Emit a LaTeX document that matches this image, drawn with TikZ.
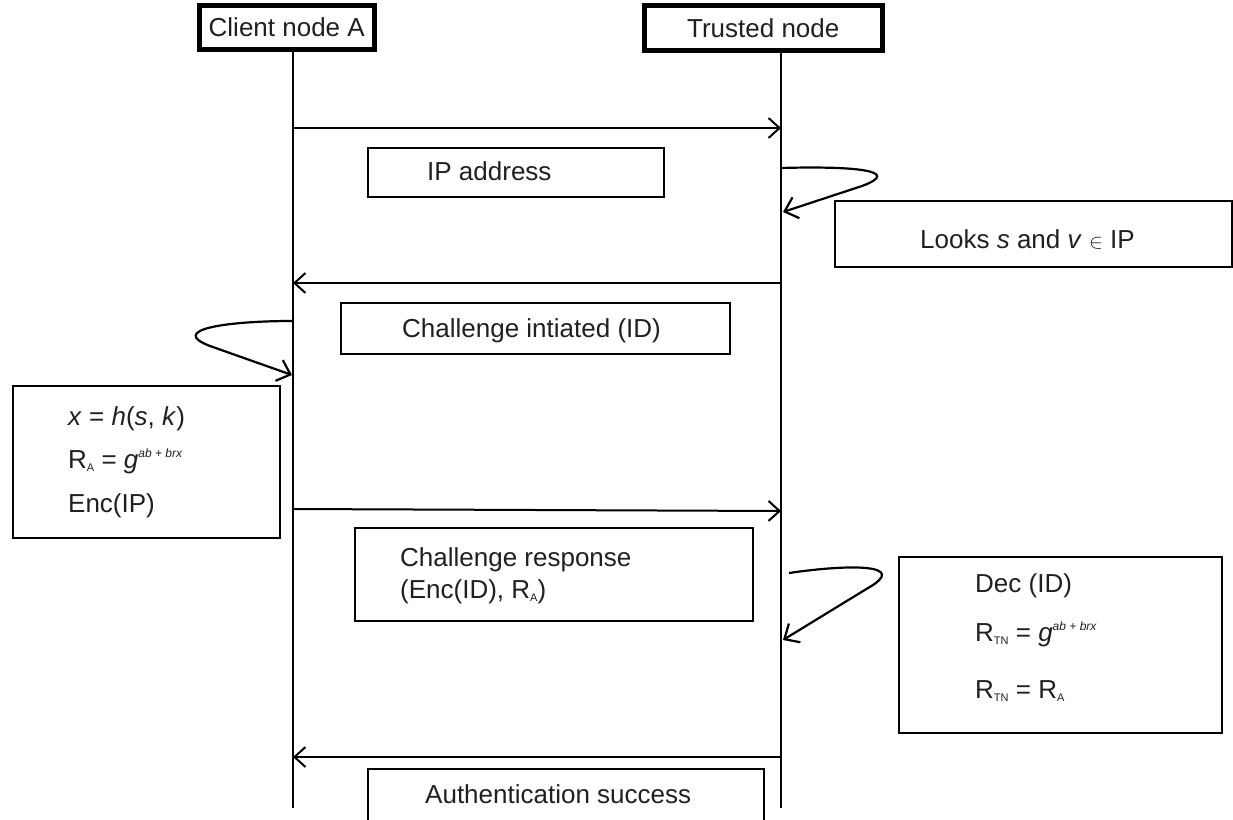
\documentclass[tikz,border=0pt]{standalone}
\usepackage{fontspec}
\setmainfont{Liberation Sans}
\usetikzlibrary{arrows.meta}
\newcommand{\lowsub}[1]{\raisebox{-3pt}{\fontsize{11}{11}\selectfont #1}}
\newcommand{\highsup}[1]{\raisebox{11pt}{\fontsize{12}{12}\selectfont\itshape #1}}
\definecolor{ink}{HTML}{231F20}
\begin{document}
\begin{tikzpicture}[x=1pt,y=-1pt,
  every node/.style={font=\fontsize{26}{31}\selectfont, text=ink},
  frame/.style={draw=black, line width=2.2pt, inner sep=0pt, anchor=north west},
  hdr/.style={draw=black, line width=4.5pt, inner sep=0pt, anchor=north west},
  life/.style={draw=black, line width=2.5pt},
  msg/.style={draw=black, line width=2pt, -{Straight Barb[length=11pt,width=20pt]}},
  selfloop/.style={draw=black, line width=2.2pt, -{Straight Barb[length=12pt,width=22pt]}},
  lbl/.style={anchor=base west, inner sep=0pt}]
\useasboundingbox (0,0) rectangle (1233,819);
\fill[white] (0,0) rectangle (1233,819);

% header boxes
\node[hdr, minimum width=175pt, minimum height=44pt] (cA) at (197,3) {Client node A};
\node[hdr, minimum width=238pt, minimum height=45pt] (tN) at (642,3) {Trusted node};

% lifelines
\coordinate (cEnd) at (293,808);
\coordinate (tEnd) at (781,808);
\draw[life] (cA.south -| cEnd) -- (cEnd);
\draw[life] (tN.south -| tEnd) -- (tEnd);

% message end points on lifelines
\coordinate (c1) at (293,128); \coordinate (t1) at (781,128);
\coordinate (c2) at (293,283); \coordinate (t2) at (781,283);
\coordinate (c3) at (293,509); \coordinate (t3) at (781,511);
\coordinate (c4) at (293,757); \coordinate (t4) at (781,757);

\draw[msg] (c1) -- (t1);
\draw[msg] (t2) -- (c2);
\draw[msg] (c3) -- (t3);
\draw[msg] (t4) -- (c4);

% self loops
\coordinate (la1) at (781,168); \coordinate (lb1) at (783,212);
\draw[selfloop] (la1) .. controls (850,166) and (905,170) .. (862,186) -- (lb1);
\coordinate (la2) at (292,321); \coordinate (lb2) at (292,375);
\draw[selfloop] (la2) .. controls (225,321) and (168,330) .. (210,346) -- (lb2);
\coordinate (la3) at (789,573); \coordinate (lb3) at (783,640);
\draw[selfloop] (la3) .. controls (850,564) and (910,564) .. (868,588) -- (lb3);

% label boxes
\node[frame, minimum width=296pt, minimum height=49pt] (ip) at (367,147) {};
\node[lbl] (ipt) at (427,180) {IP address};

\node[frame, minimum width=397pt, minimum height=66pt] (lk) at (834,200) {};
\node[lbl] (lkt) at (920,248) {Looks \textit{s} and \textit{v} {\fontsize{20}{20}\selectfont$\in$} IP};

\node[frame, minimum width=389pt, minimum height=51pt] (ci) at (340,302) {};
\node[lbl] (cit) at (402,337) {Challenge intiated (ID)};

\node[frame, minimum width=267pt, minimum height=152pt] (calc) at (12,385) {};
\node[lbl] (calc1) at (68,425) {\textit{x} = \textit{h}(\textit{s}, \textit{k})};
\node[lbl] (calc2) at (68,468) {R\lowsub{A} = \textit{g}\highsup{ab + brx}};
\node[lbl] (calc3) at (68,512) {Enc(IP)};

\node[frame, minimum width=398pt, minimum height=93pt] (cr) at (354,527) {};
\node[lbl] (cr1) at (400,566) {Challenge response};
\node[lbl] (cr2) at (400,598) {(Enc(ID), R\lowsub{A})};

\node[frame, minimum width=323pt, minimum height=176pt] (dec) at (898,556) {};
\node[lbl] (dec1) at (975,592) {Dec (ID)};
\node[lbl] (dec2) at (975,641) {R\lowsub{TN} = \textit{g}\highsup{ab + brx}};
\node[lbl] (dec3) at (975,698) {R\lowsub{TN} = R\lowsub{A}};

\node[frame, minimum width=396pt, minimum height=70pt] (au) at (367,768) {};
\node[lbl] (aut) at (425,803) {Authentication success};
\end{tikzpicture}
\end{document}
